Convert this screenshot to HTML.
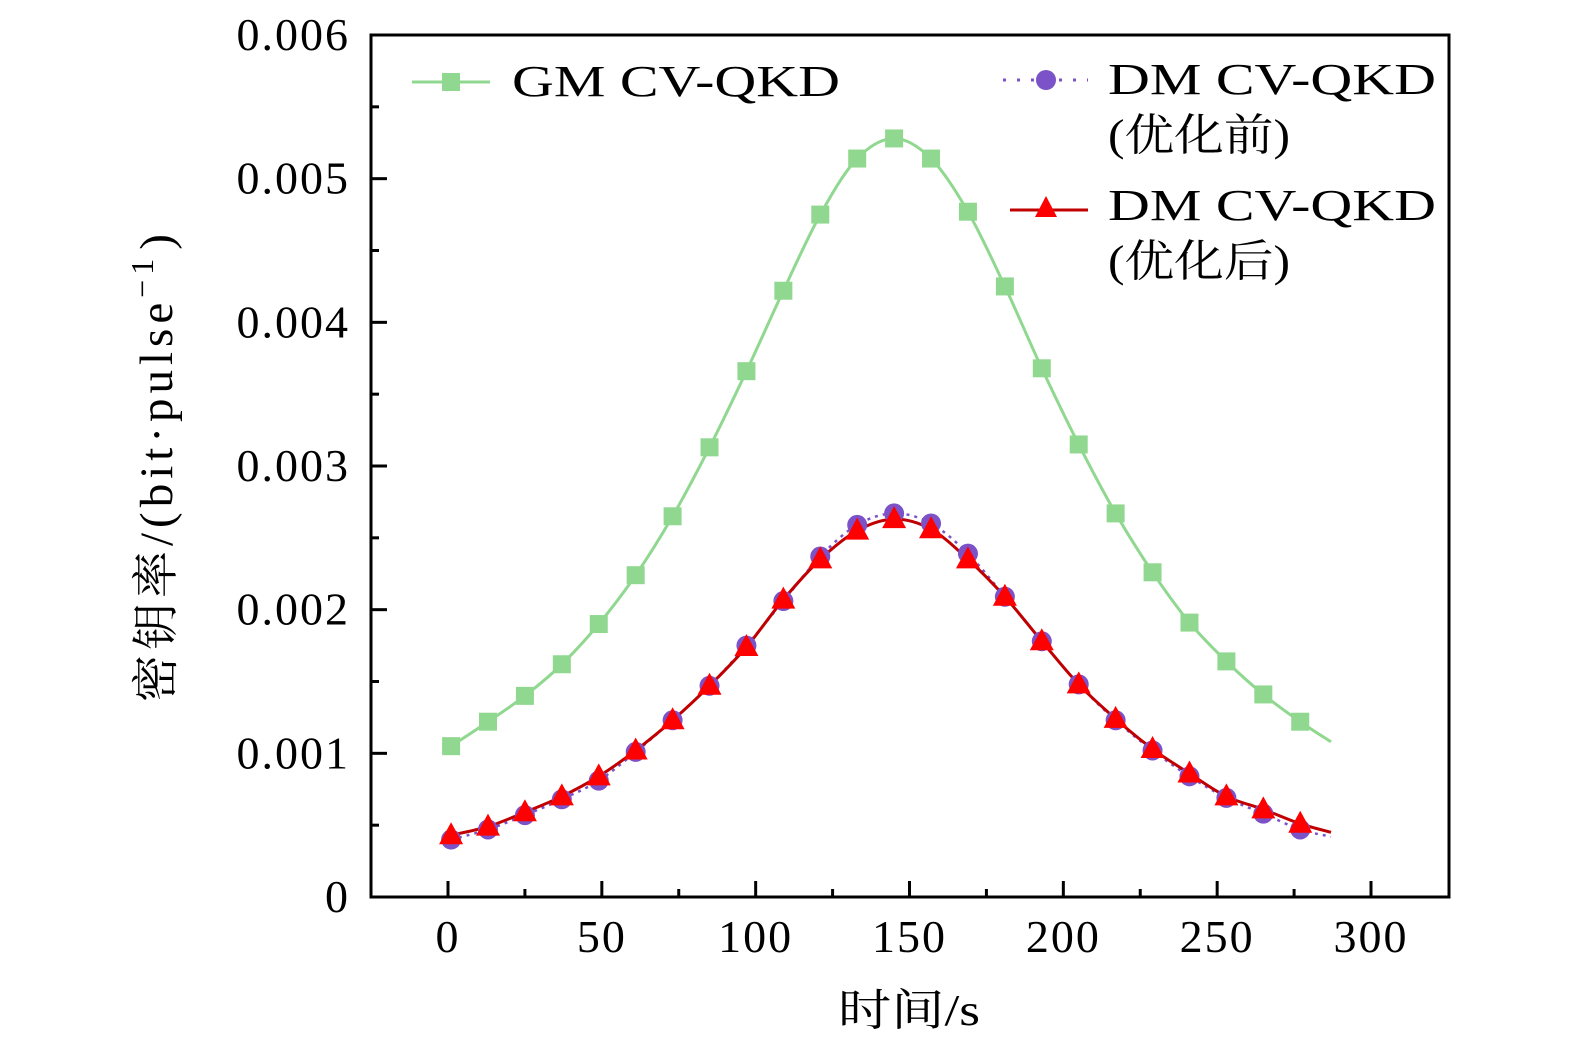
<!DOCTYPE html>
<html><head><meta charset="utf-8"><style>
html,body{margin:0;padding:0;background:#fff;}
svg{display:block;font-family:"Liberation Serif","Noto Serif CJK SC",serif;}
</style></head><body>
<svg id="chart" width="1575" height="1053" viewBox="0 0 1575 1053">
<g id="axes"></g>
<g id="series"></g>
<g id="legend">
 <line x1="412" y1="82" x2="490" y2="82" stroke="#90d890" stroke-width="3"/>
 <rect x="442" y="73" width="18" height="18" fill="#90d890"/>
 <text x="512" y="96" font-size="44" textLength="328" lengthAdjust="spacingAndGlyphs">GM CV-QKD</text>
 <line x1="1003" y1="80" x2="1088" y2="80" stroke="#7b52c8" stroke-width="3" stroke-dasharray="3,11"/>
 <circle cx="1046" cy="80" r="10" fill="#7b52c8"/>
 <text x="1108" y="94" font-size="44" textLength="328" lengthAdjust="spacingAndGlyphs">DM CV-QKD</text>
 <text x="1108" y="150" font-size="44" textLength="182" lengthAdjust="spacingAndGlyphs">(优化前)</text>
 <line x1="1010" y1="210" x2="1088" y2="210" stroke="#c00000" stroke-width="3"/>
 <polygon points="1046,196 1035,217 1057,217" fill="#ff0000"/>
 <text x="1108" y="220" font-size="44" textLength="328" lengthAdjust="spacingAndGlyphs">DM CV-QKD</text>
 <text x="1108" y="276" font-size="44" textLength="182" lengthAdjust="spacingAndGlyphs">(优化后)</text>
</g>
</svg>
<script>
const xs=[1,13,25,37,49,61,73,85,97,109,121,133,145,157,169,181,193,205,217,229,241,253,265,277,287];
const gm=[1.05,1.22,1.40,1.62,1.90,2.24,2.65,3.13,3.66,4.22,4.75,5.14,5.28,5.14,4.77,4.25,3.68,3.15,2.67,2.26,1.91,1.64,1.41,1.22,1.08];
const dmBefore=[0.40,0.47,0.57,0.68,0.81,1.01,1.23,1.47,1.75,2.06,2.37,2.59,2.67,2.60,2.39,2.09,1.78,1.48,1.23,1.02,0.84,0.69,0.58,0.47,0.42];
const dmAfter=[0.43,0.49,0.59,0.70,0.84,1.02,1.23,1.47,1.74,2.07,2.35,2.55,2.63,2.56,2.35,2.09,1.78,1.48,1.24,1.03,0.86,0.70,0.61,0.51,0.45];
const xTicks=[0,50,100,150,200,250,300];
const yTicks=[0,0.001,0.002,0.003,0.004,0.005,0.006];
const yTickLabels=["0","0.001","0.002","0.003","0.004","0.005","0.006"];
const NS="http://www.w3.org/2000/svg";
const L=371,R=1449,T=35,B=897;
const X=v=>448+v*(1371-448)/300;
const Y=v=>B-v*(B-T)/0.006;
function mk(tag,at,parent){const e=document.createElementNS(NS,tag);for(const k in at)e.setAttribute(k,at[k]);parent.appendChild(e);return e;}
const ax=document.getElementById('axes'),sr=document.getElementById('series');
let fr=mk('rect',{x:L,y:T,width:R-L,height:B-T,fill:'none',stroke:'#000','stroke-width':3},ax);


for(let v=0;v<=300;v+=25){const maj=v%50===0;const t=mk('line',{x1:X(v),x2:X(v),y1:B,y2:B-(maj?16:8),stroke:'#000','stroke-width':3},ax);

}
xTicks.forEach(v=>{const t=mk('text',{x:X(v),y:952,'font-size':46,'letter-spacing':2,'text-anchor':'middle'},ax);t.textContent=v;

});
for(let i=0;i<=12;i++){const v=i*0.0005;const maj=i%2===0;const t=mk('line',{x1:L,x2:L+(maj?16:8),y1:Y(v),y2:Y(v),stroke:'#000','stroke-width':3},ax);

}
yTicks.forEach((v,i)=>{const t=mk('text',{x:350,y:Y(v)+15,'font-size':46,'letter-spacing':2,'text-anchor':'end'},ax);t.textContent=yTickLabels[i];

});
let xt=mk('text',{x:838,y:1025,'font-size':44,textLength:142,lengthAdjust:'spacingAndGlyphs'},ax);xt.textContent='时间/s';


let yt=mk('text',{x:0,y:0,'font-size':47,'letter-spacing':5,transform:'translate(172,702) rotate(-90)'},ax);
yt.innerHTML='密钥率/(bit·pulse<tspan font-size="32" dy="-19">−1</tspan><tspan dy="19" dx="4">)</tspan>';


function path(vals){const p=xs.map((x,i)=>[X(x),Y(vals[i]/1000)]);let d='M'+p[0][0]+','+p[0][1];
for(let i=0;i<p.length-1;i++){const p0=p[Math.max(0,i-1)],p1=p[i],p2=p[i+1],p3=p[Math.min(p.length-1,i+2)];
d+=' C'+(p1[0]+(p2[0]-p0[0])/6)+','+(p1[1]+(p2[1]-p0[1])/6)+' '+(p2[0]-(p3[0]-p1[0])/6)+','+(p2[1]-(p3[1]-p1[1])/6)+' '+p2[0]+','+p2[1];}return d;}
let g1=mk('path',{d:path(gm),fill:'none',stroke:'#90d890','stroke-width':3},sr);


let g2=mk('path',{d:path(dmBefore),fill:'none',stroke:'#7b52c8','stroke-width':2.5,'stroke-dasharray':'3,5'},sr);


let g3=mk('path',{d:path(dmAfter),fill:'none',stroke:'#c00000','stroke-width':3},sr);


for(let i=0;i<xs.length-1;i++){
 const x=X(xs[i]);
 const a=mk('rect',{x:x-9,y:Y(gm[i]/1000)-9,width:18,height:18,fill:'#90d890'},sr);
 
 
 const b=mk('circle',{cx:x,cy:Y(dmBefore[i]/1000),r:10,fill:'#7b52c8'},sr);
 
 
 const y=Y(dmAfter[i]/1000);
 const c=mk('polygon',{points:`${x},${y-13} ${x-12},${y+9} ${x+12},${y+9}`,fill:'#ff0000'},sr);
 
 
}
</script>
</body></html>
